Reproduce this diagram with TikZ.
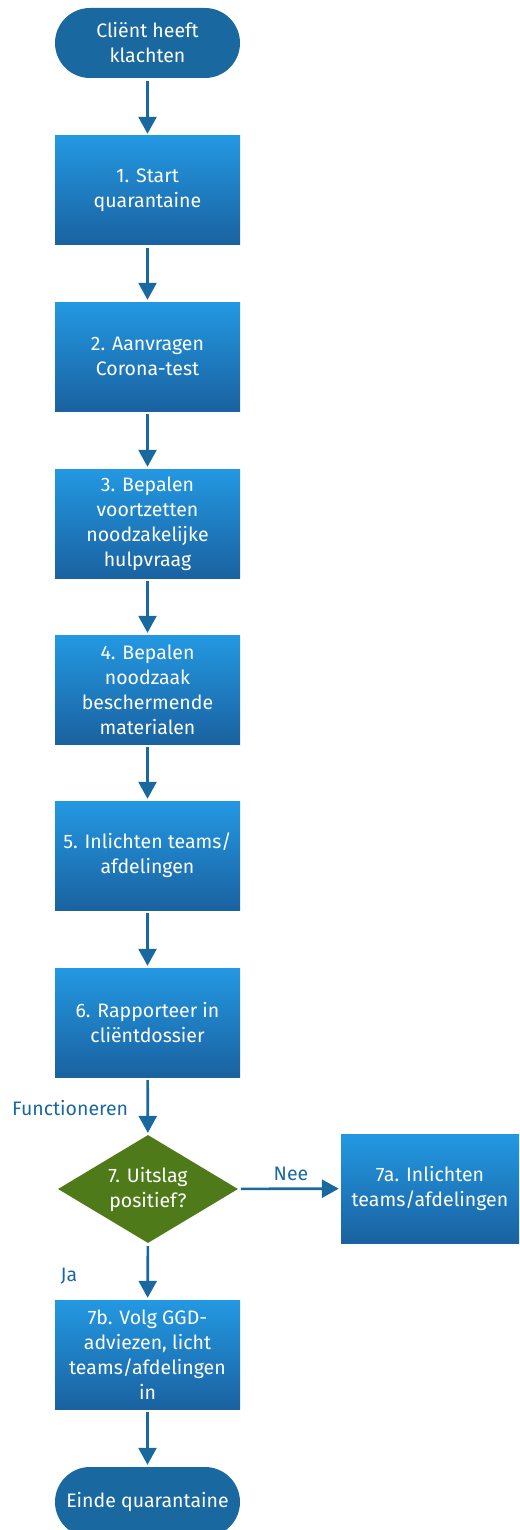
\documentclass[tikz,border=0pt]{standalone}
\usepackage{fontspec}
\setmainfont{Fira Sans}
\usetikzlibrary{arrows.meta,shapes.geometric}
\definecolor{dblue}{HTML}{1A68A0}
\definecolor{btop}{HTML}{2398E2}
\definecolor{bbot}{HTML}{1A62A0}
\definecolor{dgreen}{HTML}{4E7A1A}
\tikzset{
  base/.style={text=white,align=center,font=\fontsize{19.5}{25}\selectfont},
  term/.style={base,fill=dblue,rounded corners=35pt,minimum width=185pt,minimum height=70pt,inner sep=0pt},
  stepbox/.style={base,top color=btop,bottom color=bbot,minimum width=185pt,minimum height=109pt,inner sep=0pt},
  decision/.style={base,diamond,fill=dgreen,minimum width=180pt,minimum height=108pt,inner sep=0pt,aspect=1.67},
  conn/.style={draw=dblue,line width=2.6pt,-{Triangle[width=18pt,length=17pt]},shorten <=3pt,shorten >=2pt},
  lbl/.style={text=dblue,font=\fontsize{19.5}{22}\selectfont,inner sep=0pt}
}
\begin{document}
\begin{tikzpicture}[x=1pt,y=-1pt]
\useasboundingbox (0,0) rectangle (519,1530);
\clip (0,0) rectangle (519,1530);
\node[term] (s) at (147.5,43) {Cliënt heeft\\klachten};
\node[stepbox] (b1) at (147.5,190.5) {1. Start\\quarantaine};
\node[stepbox] (b2) at (147.5,356.5) {2. Aanvragen\\Corona-test};
\node[stepbox] (b3) at (147.5,523.5) {3. Bepalen\\voortzetten\\noodzakelijke\\hulpvraag};
\node[stepbox] (b4) at (147.5,689.5) {4. Bepalen\\noodzaak\\beschermende\\materialen};
\node[stepbox] (b5) at (147.5,855.5) {5. Inlichten teams/\\afdelingen};
\node[stepbox] (b6) at (147.5,1022.5) {6. Rapporteer in\\cliëntdossier};
\node[decision] (d7) at (148,1189) {7. Uitslag\\positief?};
\node[stepbox,minimum width=178pt] (b7a) at (430,1188.5) {7a. Inlichten\\teams/afdelingen};
\node[stepbox] (b7b) at (147.5,1354.5) {7b. Volg GGD-\\adviezen, licht\\teams/afdelingen\\in};
\node[term] (e) at (147.5,1502) {Einde quarantaine};
\draw[conn] (s) -- (b1);
\draw[conn] (b1) -- (b2);
\draw[conn] (b2) -- (b3);
\draw[conn] (b3) -- (b4);
\draw[conn] (b4) -- (b5);
\draw[conn] (b5) -- (b6);
\draw[conn] (b6) -- (d7);
\draw[conn] (d7) -- (b7a);
\draw[conn] (d7) -- (b7b);
\draw[conn] (b7b) -- (e);
\node[lbl,anchor=west] (lf) at (12,1108) {Functioneren};
\node[lbl] (ln) at (291,1174) {Nee};
\node[lbl] (lj) at (69,1276) {Ja};
\end{tikzpicture}
\end{document}
